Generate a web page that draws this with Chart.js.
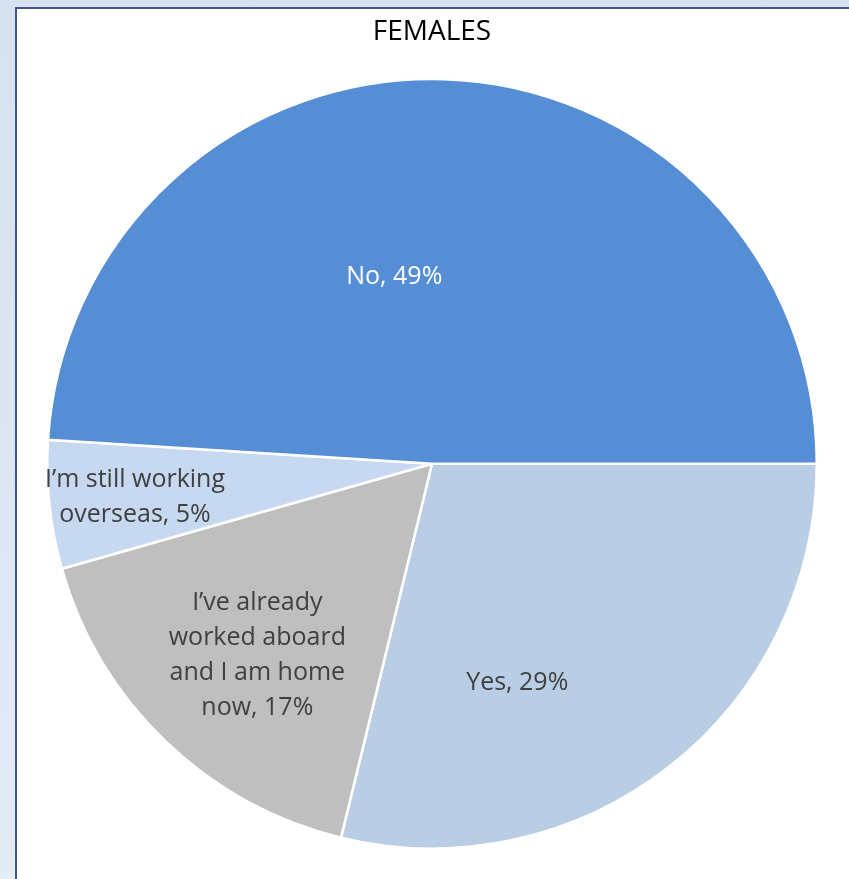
<!DOCTYPE html>
<html>
<head>
<meta charset="utf-8">
<script src="https://cdn.jsdelivr.net/npm/chart.js@4"></script>
<style>
  html, body { margin:0; padding:0; }
  body { width:849px; height:879px; overflow:hidden; background:linear-gradient(180deg,#d6e2f0 0%,#e3ebf5 100%); position:relative; }
  #frame { position:absolute; left:15px; top:7px; width:840px; height:880px; border-left:2px solid #3d5987; border-top:2px solid #3d5987; background:#ffffff; }
  #wrap { position:absolute; left:0; top:0; width:849px; height:879px; }
</style>
</head>
<body>
<div id="frame"></div>
<div id="wrap"><canvas id="c" width="849" height="879"></canvas></div>
<script>
// ---- data ----
const chartTitle = "FEMALES";
const categories = [
  ["Yes"],
  ["I’ve already", "worked aboard", "and I am home", "now"],
  ["I’m still working", "overseas"],
  ["No"]
];
const shares = [28.8, 16.8, 5.4, 49.0];          // slice sizes (%)
const percentLabels = ["29%", "17%", "5%", "49%"]; // printed values
const sliceColors = ["#b9cde5", "#bfbfbf", "#c6d9f1", "#558ed5"];
const labelColors = ["#404040", "#404040", "#404040", "#ffffff"];
// label placement: angle shift (deg) from slice middle, radius fraction
const labelAngleShift = [16.9, -1.5, -0.4, -13.2];
const labelRadiusFrac = [0.611, 0.673, 0.777, 0.496];

const labelPlugin = {
  id: 'sliceLabels',
  afterDatasetsDraw(chart) {
    const ctx = chart.ctx;
    const meta = chart.getDatasetMeta(0);
    ctx.save();
    ctx.font = '25px "Open Sans"';
    ctx.textAlign = 'center';
    ctx.textBaseline = 'middle';
    const lh = 35;
    meta.data.forEach((arc, i) => {
      const p = arc.getProps(['x','y','startAngle','endAngle','outerRadius'], true);
      const mid = (p.startAngle + p.endAngle) / 2 + labelAngleShift[i] * Math.PI / 180;
      const r = p.outerRadius * labelRadiusFrac[i];
      const cx = p.x + Math.cos(mid) * r;
      const cy = p.y + Math.sin(mid) * r;
      const lines = categories[i].slice();
      lines[lines.length - 1] = lines[lines.length - 1] + ", " + percentLabels[i];
      ctx.fillStyle = labelColors[i];
      const y0 = cy - (lines.length - 1) * lh / 2;
      lines.forEach((t, k) => ctx.fillText(t, cx, y0 + k * lh));
    });
    ctx.restore();
  }
};

new Chart(document.getElementById('c'), {
  type: 'pie',
  data: {
    labels: categories.map(c => c.join(' ')),
    datasets: [{
      data: shares,
      backgroundColor: sliceColors,
      borderColor: '#ffffff',
      borderWidth: 2.5,
      hoverOffset: 0
    }]
  },
  options: {
    responsive: false,
    animation: false,
    rotation: 90,
    layout: { padding: { left: 46, right: 31, top: 6, bottom: 29 } },
    plugins: {
      legend: { display: false },
      tooltip: { enabled: false },
      title: {
        display: true,
        text: chartTitle,
        color: '#000000',
        font: { family: '"Open Sans"', size: 28, weight: 'normal' },
        padding: { top: 9, bottom: 29 }
      }
    }
  },
  plugins: [labelPlugin]
});
</script>
</body>
</html>
